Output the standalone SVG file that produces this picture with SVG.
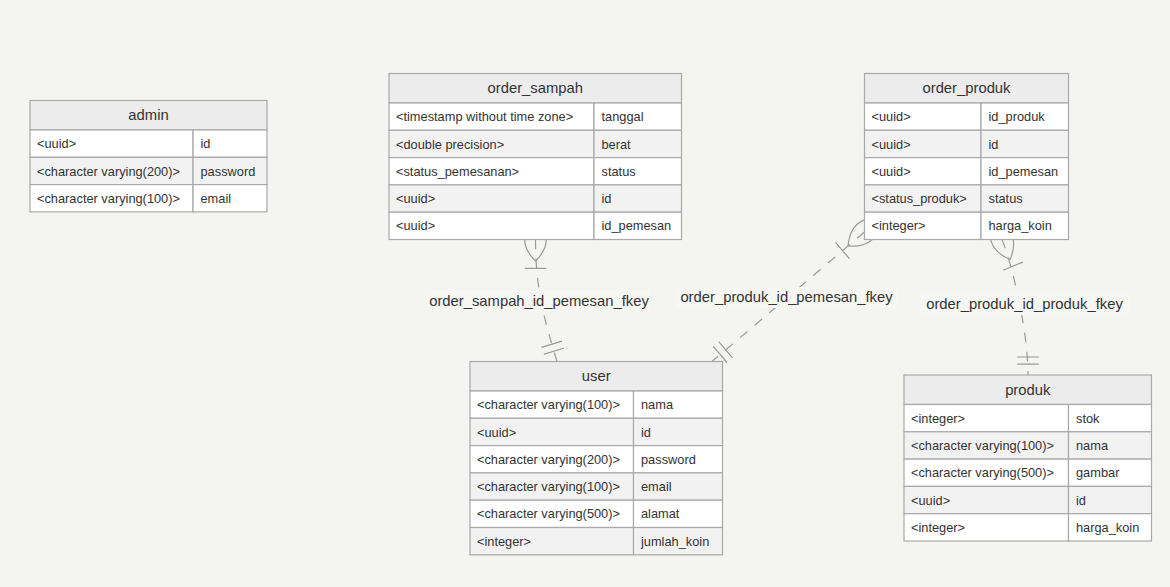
<svg xmlns="http://www.w3.org/2000/svg" width="1170" height="587" viewBox="0 0 1170 587">
<style>
.bg{fill:#f4f4f0}
.hd{fill:#ececec;stroke:#a9a9a9;stroke-width:1.2}
.od{fill:#ffffff;stroke:#a9a9a9;stroke-width:1.2}
.ev{fill:#f2f2f2;stroke:#a9a9a9;stroke-width:1.2}
.ht{font-family:"Liberation Sans",Arial,sans-serif;font-size:14.8px;fill:#333;text-anchor:middle}
.rt{font-family:"Liberation Sans",Arial,sans-serif;font-size:12.8px;fill:#333}
.rel{fill:none;stroke:#9a9a9a;stroke-width:1.2;stroke-dasharray:9.6,9.6}
.lb{font-family:"Liberation Sans",Arial,sans-serif;font-size:14.8px;fill:#333;text-anchor:middle}
.lbg{fill:#f6f6f3;opacity:0.9}
.mk{fill:none;stroke:#9a9a9a;stroke-width:1;stroke-dasharray:none}
</style>
<defs>
<marker id="oneOrMore" markerUnits="userSpaceOnUse" viewBox="0 0 45 36" markerWidth="54" markerHeight="43.2" refX="18" refY="18" orient="auto">
<path class="mk" d="M0,18 Q18,0 36,18 Q18,36 0,18 M42,9 L42,27"/>
</marker>
<marker id="onlyOne" markerUnits="userSpaceOnUse" viewBox="0 0 18 18" markerWidth="21.6" markerHeight="21.6" refX="18" refY="9" orient="auto">
<path class="mk" d="M3,0 L3,18 M9,0 L9,18"/>
</marker>
</defs>
<rect class="bg" x="0" y="0" width="1170" height="587"/>

<g id="connectors">
<path id="rel-order_sampah-user" class="rel" d="M535.5,239.5 C535.5,290 545,322 557,361.5" marker-start="url(#oneOrMore)" marker-end="url(#onlyOne)"/>
<path id="rel-order_produk-user" class="rel" d="M864.5,232 L712,361.5" marker-start="url(#oneOrMore)" marker-end="url(#onlyOne)"/>
<path id="rel-order_produk-produk" class="rel" d="M1002,239.5 C1012,264 1028,330 1028,375" marker-start="url(#oneOrMore)" marker-end="url(#onlyOne)"/>
<rect class="lbg" x="428" y="290" width="222" height="21"/>
<text class="lb" x="539" y="305.5">order_sampah_id_pemesan_fkey</text>
<rect class="lbg" x="676" y="287" width="221" height="21"/>
<text class="lb" x="786.5" y="302">order_produk_id_pemesan_fkey</text>
<rect class="lbg" x="920" y="294" width="209" height="21"/>
<text class="lb" x="1024.5" y="309">order_produk_id_produk_fkey</text>
</g>

<g id="admin">
<rect class="hd" x="30" y="100.5" width="237" height="29.5"/>
<text class="ht" x="148.5" y="120.3">admin</text>
<rect class="od" x="30" y="130" width="163" height="27.3"/><rect class="od" x="193" y="130" width="74" height="27.3"/>
<text class="rt" x="37" y="148.2">&lt;uuid&gt;</text><text class="rt" x="200.5" y="148.2">id</text>
<rect class="ev" x="30" y="157.3" width="163" height="27.3"/><rect class="ev" x="193" y="157.3" width="74" height="27.3"/>
<text class="rt" x="37" y="175.5">&lt;character varying(200)&gt;</text><text class="rt" x="200.5" y="175.5">password</text>
<rect class="od" x="30" y="184.6" width="163" height="27.3"/><rect class="od" x="193" y="184.6" width="74" height="27.3"/>
<text class="rt" x="37" y="202.8">&lt;character varying(100)&gt;</text><text class="rt" x="200.5" y="202.8">email</text>
</g>

<g id="order_sampah">
<rect class="hd" x="389" y="73.5" width="292.5" height="29.5"/>
<text class="ht" x="535.25" y="93.3">order_sampah</text>
<rect class="od" x="389" y="103" width="205" height="27.3"/><rect class="od" x="594" y="103" width="87.5" height="27.3"/>
<text class="rt" x="396" y="121.2">&lt;timestamp without time zone&gt;</text><text class="rt" x="601.5" y="121.2">tanggal</text>
<rect class="ev" x="389" y="130.3" width="205" height="27.3"/><rect class="ev" x="594" y="130.3" width="87.5" height="27.3"/>
<text class="rt" x="396" y="148.5">&lt;double precision&gt;</text><text class="rt" x="601.5" y="148.5">berat</text>
<rect class="od" x="389" y="157.6" width="205" height="27.3"/><rect class="od" x="594" y="157.6" width="87.5" height="27.3"/>
<text class="rt" x="396" y="175.8">&lt;status_pemesanan&gt;</text><text class="rt" x="601.5" y="175.8">status</text>
<rect class="ev" x="389" y="184.9" width="205" height="27.3"/><rect class="ev" x="594" y="184.9" width="87.5" height="27.3"/>
<text class="rt" x="396" y="203.1">&lt;uuid&gt;</text><text class="rt" x="601.5" y="203.1">id</text>
<rect class="od" x="389" y="212.2" width="205" height="27.3"/><rect class="od" x="594" y="212.2" width="87.5" height="27.3"/>
<text class="rt" x="396" y="230.4">&lt;uuid&gt;</text><text class="rt" x="601.5" y="230.4">id_pemesan</text>
</g>

<g id="order_produk">
<rect class="hd" x="864.5" y="73.5" width="204" height="29.5"/>
<text class="ht" x="966.5" y="93.3">order_produk</text>
<rect class="od" x="864.5" y="103" width="116.5" height="27.3"/><rect class="od" x="981" y="103" width="87.5" height="27.3"/>
<text class="rt" x="871.5" y="121.2">&lt;uuid&gt;</text><text class="rt" x="988.5" y="121.2">id_produk</text>
<rect class="ev" x="864.5" y="130.3" width="116.5" height="27.3"/><rect class="ev" x="981" y="130.3" width="87.5" height="27.3"/>
<text class="rt" x="871.5" y="148.5">&lt;uuid&gt;</text><text class="rt" x="988.5" y="148.5">id</text>
<rect class="od" x="864.5" y="157.6" width="116.5" height="27.3"/><rect class="od" x="981" y="157.6" width="87.5" height="27.3"/>
<text class="rt" x="871.5" y="175.8">&lt;uuid&gt;</text><text class="rt" x="988.5" y="175.8">id_pemesan</text>
<rect class="ev" x="864.5" y="184.9" width="116.5" height="27.3"/><rect class="ev" x="981" y="184.9" width="87.5" height="27.3"/>
<text class="rt" x="871.5" y="203.1">&lt;status_produk&gt;</text><text class="rt" x="988.5" y="203.1">status</text>
<rect class="od" x="864.5" y="212.2" width="116.5" height="27.3"/><rect class="od" x="981" y="212.2" width="87.5" height="27.3"/>
<text class="rt" x="871.5" y="230.4">&lt;integer&gt;</text><text class="rt" x="988.5" y="230.4">harga_koin</text>
</g>

<g id="user">
<rect class="hd" x="470" y="361.5" width="252.5" height="29.5"/>
<text class="ht" x="596.25" y="381.3">user</text>
<rect class="od" x="470" y="391" width="163.5" height="27.3"/><rect class="od" x="633.5" y="391" width="89" height="27.3"/>
<text class="rt" x="477" y="409.2">&lt;character varying(100)&gt;</text><text class="rt" x="641" y="409.2">nama</text>
<rect class="ev" x="470" y="418.3" width="163.5" height="27.3"/><rect class="ev" x="633.5" y="418.3" width="89" height="27.3"/>
<text class="rt" x="477" y="436.5">&lt;uuid&gt;</text><text class="rt" x="641" y="436.5">id</text>
<rect class="od" x="470" y="445.6" width="163.5" height="27.3"/><rect class="od" x="633.5" y="445.6" width="89" height="27.3"/>
<text class="rt" x="477" y="463.8">&lt;character varying(200)&gt;</text><text class="rt" x="641" y="463.8">password</text>
<rect class="ev" x="470" y="472.9" width="163.5" height="27.3"/><rect class="ev" x="633.5" y="472.9" width="89" height="27.3"/>
<text class="rt" x="477" y="491.1">&lt;character varying(100)&gt;</text><text class="rt" x="641" y="491.1">email</text>
<rect class="od" x="470" y="500.2" width="163.5" height="27.3"/><rect class="od" x="633.5" y="500.2" width="89" height="27.3"/>
<text class="rt" x="477" y="518.4">&lt;character varying(500)&gt;</text><text class="rt" x="641" y="518.4">alamat</text>
<rect class="ev" x="470" y="527.5" width="163.5" height="27.3"/><rect class="ev" x="633.5" y="527.5" width="89" height="27.3"/>
<text class="rt" x="477" y="545.7">&lt;integer&gt;</text><text class="rt" x="641" y="545.7">jumlah_koin</text>
</g>

<g id="produk">
<rect class="hd" x="904" y="375" width="247.5" height="29.5"/>
<text class="ht" x="1027.75" y="394.8">produk</text>
<rect class="od" x="904" y="404.5" width="164.5" height="27.3"/><rect class="od" x="1068.5" y="404.5" width="83" height="27.3"/>
<text class="rt" x="911" y="422.7">&lt;integer&gt;</text><text class="rt" x="1076" y="422.7">stok</text>
<rect class="ev" x="904" y="431.8" width="164.5" height="27.3"/><rect class="ev" x="1068.5" y="431.8" width="83" height="27.3"/>
<text class="rt" x="911" y="450">&lt;character varying(100)&gt;</text><text class="rt" x="1076" y="450">nama</text>
<rect class="od" x="904" y="459.1" width="164.5" height="27.3"/><rect class="od" x="1068.5" y="459.1" width="83" height="27.3"/>
<text class="rt" x="911" y="477.3">&lt;character varying(500)&gt;</text><text class="rt" x="1076" y="477.3">gambar</text>
<rect class="ev" x="904" y="486.4" width="164.5" height="27.3"/><rect class="ev" x="1068.5" y="486.4" width="83" height="27.3"/>
<text class="rt" x="911" y="504.6">&lt;uuid&gt;</text><text class="rt" x="1076" y="504.6">id</text>
<rect class="od" x="904" y="513.7" width="164.5" height="27.3"/><rect class="od" x="1068.5" y="513.7" width="83" height="27.3"/>
<text class="rt" x="911" y="531.9">&lt;integer&gt;</text><text class="rt" x="1076" y="531.9">harga_koin</text>
</g>
</svg>
